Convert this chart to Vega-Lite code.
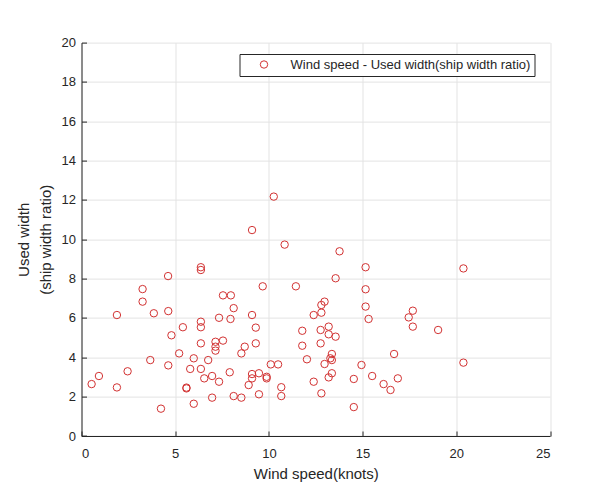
{
  "$schema": "https://vega.github.io/schema/vega-lite/v6.json",
  "autosize": "none",
  "width": 468.5,
  "height": 393.4,
  "padding": {"left": 81.5, "top": 42.6, "right": 54, "bottom": 50},
  "background": "white",
  "config": {
    "font": "Liberation Sans",
    "view": {"stroke": null},
    "axis": {
      "domainColor": "#262626",
      "domainWidth": 1,
      "tickColor": "#262626",
      "tickSize": -5,
      "labelColor": "#262626",
      "labelFontSize": 13,
      "titleColor": "#262626",
      "titleFontSize": 15,
      "titleFontWeight": "normal",
      "gridColor": "#e3e3e3",
      "gridWidth": 1
    }
  },
  "data": {
    "values": [
      {"speed": 0.54, "width": 2.64}, {"speed": 0.93, "width": 3.05}, {"speed": 1.89, "width": 2.47},
      {"speed": 1.89, "width": 6.15}, {"speed": 2.46, "width": 3.29}, {"speed": 3.26, "width": 7.47},
      {"speed": 3.26, "width": 6.83}, {"speed": 3.67, "width": 3.86}, {"speed": 3.86, "width": 6.24},
      {"speed": 4.24, "width": 1.39}, {"speed": 4.62, "width": 8.13}, {"speed": 4.63, "width": 6.35},
      {"speed": 4.63, "width": 3.59}, {"speed": 4.8, "width": 5.12}, {"speed": 5.21, "width": 4.2},
      {"speed": 5.41, "width": 5.53}, {"speed": 5.6, "width": 2.46}, {"speed": 5.6, "width": 2.42},
      {"speed": 5.8, "width": 3.41}, {"speed": 5.99, "width": 3.95}, {"speed": 5.99, "width": 1.64},
      {"speed": 6.37, "width": 8.58}, {"speed": 6.37, "width": 8.44}, {"speed": 6.37, "width": 5.81},
      {"speed": 6.37, "width": 5.53}, {"speed": 6.37, "width": 4.71}, {"speed": 6.37, "width": 3.41},
      {"speed": 6.55, "width": 2.93}, {"speed": 6.76, "width": 3.86}, {"speed": 6.97, "width": 3.05},
      {"speed": 6.97, "width": 1.95}, {"speed": 7.15, "width": 4.79}, {"speed": 7.15, "width": 4.54},
      {"speed": 7.15, "width": 4.34}, {"speed": 7.34, "width": 6.01}, {"speed": 7.34, "width": 2.76},
      {"speed": 7.55, "width": 4.85}, {"speed": 7.55, "width": 7.15}, {"speed": 7.91, "width": 3.24},
      {"speed": 7.95, "width": 5.95}, {"speed": 7.97, "width": 7.15}, {"speed": 8.12, "width": 6.5},
      {"speed": 8.12, "width": 2.03}, {"speed": 8.53, "width": 4.2}, {"speed": 8.53, "width": 1.95},
      {"speed": 8.71, "width": 4.54}, {"speed": 8.92, "width": 2.59}, {"speed": 9.1, "width": 10.47},
      {"speed": 9.1, "width": 6.15}, {"speed": 9.1, "width": 3.15}, {"speed": 9.1, "width": 2.93},
      {"speed": 9.3, "width": 5.51}, {"speed": 9.3, "width": 4.71}, {"speed": 9.47, "width": 3.19},
      {"speed": 9.47, "width": 2.12}, {"speed": 9.67, "width": 7.61}, {"speed": 9.88, "width": 3.01},
      {"speed": 9.88, "width": 2.93}, {"speed": 10.1, "width": 3.64}, {"speed": 10.26, "width": 12.17},
      {"speed": 10.49, "width": 3.64}, {"speed": 10.66, "width": 2.48}, {"speed": 10.66, "width": 2.03},
      {"speed": 10.84, "width": 9.73}, {"speed": 11.44, "width": 7.61}, {"speed": 11.78, "width": 5.35},
      {"speed": 11.78, "width": 4.59}, {"speed": 12.03, "width": 3.9}, {"speed": 12.39, "width": 6.15},
      {"speed": 12.39, "width": 2.76}, {"speed": 12.8, "width": 6.66}, {"speed": 12.97, "width": 6.83},
      {"speed": 12.8, "width": 6.27}, {"speed": 12.76, "width": 5.39}, {"speed": 12.76, "width": 4.71},
      {"speed": 12.8, "width": 2.17}, {"speed": 12.97, "width": 3.66}, {"speed": 13.19, "width": 5.56},
      {"speed": 13.19, "width": 5.17}, {"speed": 13.19, "width": 2.98}, {"speed": 13.36, "width": 4.17},
      {"speed": 13.28, "width": 3.95}, {"speed": 13.36, "width": 3.86}, {"speed": 13.36, "width": 3.19},
      {"speed": 13.56, "width": 5.05}, {"speed": 13.56, "width": 8.02}, {"speed": 13.77, "width": 9.39},
      {"speed": 14.53, "width": 2.9}, {"speed": 14.53, "width": 1.47}, {"speed": 14.94, "width": 3.61},
      {"speed": 15.16, "width": 8.58}, {"speed": 15.16, "width": 7.46}, {"speed": 15.16, "width": 6.58},
      {"speed": 15.32, "width": 5.95}, {"speed": 15.51, "width": 3.05}, {"speed": 16.12, "width": 2.64},
      {"speed": 16.49, "width": 2.34}, {"speed": 16.68, "width": 4.17}, {"speed": 16.88, "width": 2.93},
      {"speed": 17.46, "width": 6.03}, {"speed": 17.68, "width": 6.37}, {"speed": 17.68, "width": 5.56},
      {"speed": 19.03, "width": 5.39}, {"speed": 20.38, "width": 8.52}, {"speed": 20.38, "width": 3.73}
    ]
  },
  "mark": {"type": "point", "shape": "circle", "filled": false, "size": 55, "strokeWidth": 1, "opacity": 1},
  "encoding": {
    "x": {
      "field": "speed",
      "type": "quantitative",
      "scale": {"domain": [0, 25], "nice": false, "zero": false},
      "axis": {
        "title": "Wind speed(knots)",
        "values": [0, 5, 10, 15, 20, 25],
        "labelPadding": 16,
        "titlePadding": 6
      }
    },
    "y": {
      "field": "width",
      "type": "quantitative",
      "scale": {"domain": [0, 20], "nice": false},
      "axis": {
        "title": ["Used width", "(ship width ratio)"],
        "values": [0, 2, 4, 6, 8, 10, 12, 14, 16, 18, 20],
        "labelPadding": 11,
        "titleAngle": -90,
        "titleAlign": "center",
        "titleBaseline": "top",
        "titleX": -65,
        "titleY": 196.7,
        "titleLineHeight": 22
      }
    },
    "color": {
      "datum": "Wind speed - Used width(ship width ratio)",
      "type": "nominal",
      "scale": {"range": ["#d23232"]},
      "legend": {
        "title": null,
        "orient": "none",
        "legendX": 158,
        "legendY": 11.4,
        "strokeColor": "#262626",
        "fillColor": "white",
        "padding": 4,
        "symbolOffset": 14,
        "labelOffset": 20,
        "labelFontSize": 13,
        "labelColor": "#262626",
        "symbolSize": 55,
        "symbolStrokeWidth": 1,
        "labelLimit": 400
      }
    }
  }
}
